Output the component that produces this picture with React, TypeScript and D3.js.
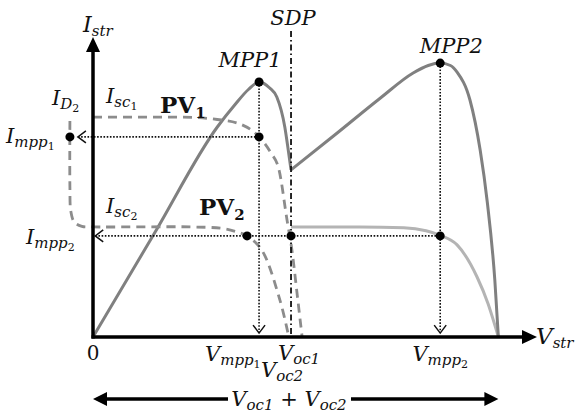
import React from 'react';
import * as d3 from 'd3';

// all values in arbitrary units: voltage on x (0..100), current / power on y (0..100)
const pv1Curve: [number, number][] = [
  [0, 73.3], [20, 73.3], [28, 72.5], [33.1, 71], [37.4, 66.7], [40, 61.5],
  [41.9, 55.7], [43.7, 39], [44.8, 29], [46, 14], [47.1, 0],
];
const pv2Curve: [number, number][] = [
  [-5.2, 72], [-5.2, 50], [-5, 42], [-4.2, 38.3], [-2.5, 36.9], [0, 36.7],
  [22, 36.7], [29, 36.2], [32.5, 35], [34.7, 33.7], [38, 29], [42.1, 12.3], [44.1, 0],
];
const stringPowerLeft: [number, number][] = [
  [0, 0], [14, 35], [28, 70], [32, 77.5], [35, 82.5], [37.4, 85], [39.8, 83],
  [41.4, 80], [43.2, 70], [44.1, 61], [44.6, 55.7],
];
const stringPowerRight: [number, number][] = [
  [44.6, 55.7], [55, 68], [64.6, 79.5], [72.1, 88], [75.5, 90.5], [78.2, 91.3],
  [80.5, 90.5], [82, 88.3], [84.9, 79], [87.2, 62.3], [88.8, 45], [90.5, 19], [91.3, 0],
];
const stringCurrent: [number, number][] = [
  [44.6, 36.7], [60, 36.7], [70, 36.4], [75, 35.4], [78.2, 33.9], [82, 30.7],
  [86.5, 20], [89, 11], [90.5, 4], [91.3, 0],
];
const markerPoints: [number, number][] = [
  [37.4, 85], [78.2, 91.3], [37.4, 66.7], [34.7, 33.7], [44.6, 33.7], [78.2, 33.7], [-5.2, 66.7],
];
// key voltages and currents
const vMpp = [37.4, 78.2];
const iMpp = [66.7, 33.7];
const vSdp = 44.6;
const vTotal = 91.3;

const serif = "'DejaVu Serif', 'Liberation Serif', serif";
const MAIN = 21, SUB = 15, SUB2 = 11;

export default function App() {
  const x = d3.scaleLinear().domain([0, 100]).range([93, 537]);
  const y = d3.scaleLinear().domain([0, 100]).range([337, 37]);

  const smooth = d3.line<[number, number]>()
    .x(d => x(d[0]))
    .y(d => y(d[1]))
    .curve(d3.curveMonotoneX);
  const loose = d3.line<[number, number]>()
    .x(d => x(d[0]))
    .y(d => y(d[1]))
    .curve(d3.curveCatmullRom.alpha(0.5));

  const x0 = x(0), y0 = y(0);
  const bottomY = 399;

  // open arrow heads
  const openLeft = (tx: number, ty: number) => `M${tx + 8},${ty - 6}L${tx},${ty}L${tx + 8},${ty + 6}`;
  const openDown = (tx: number, ty: number) => `M${tx - 6},${ty - 8}L${tx},${ty}L${tx + 6},${ty - 8}`;

  const dotted = { stroke: '#111', strokeWidth: 1.6, strokeDasharray: '1.6 1.6', fill: 'none' };

  // letter with subscript and optional second-level subscript
  const sym = (base: string, sub: string, sub2?: string, big = MAIN) => (
    <>
      <tspan fontSize={big}>{base}</tspan>
      <tspan fontSize={SUB} dy={4}>{sub}</tspan>
      {sub2 ? <tspan fontSize={SUB2} dy={3} fontStyle="normal">{sub2}</tspan> : null}
    </>
  );

  return (
    <svg width={577} height={417} style={{ position: 'absolute', left: 0, top: 0, background: '#fff' }}
      fontFamily={serif}>
      {/* string current (light) and power (dark) */}
      <path d={smooth(stringCurrent) ?? ''} fill="none" stroke="#b4b4b4" strokeWidth={3} />
      <path d={smooth(stringPowerLeft) ?? ''} fill="none" stroke="#808080" strokeWidth={3} />
      <path d={smooth(stringPowerRight) ?? ''} fill="none" stroke="#808080" strokeWidth={3} />

      {/* single module curves */}
      <path d={smooth(pv1Curve) ?? ''} fill="none" stroke="#8c8c8c" strokeWidth={2.8} strokeDasharray="9 6" />
      <path d={loose(pv2Curve) ?? ''} fill="none" stroke="#8c8c8c" strokeWidth={2.8} strokeDasharray="9 6" />

      {/* SDP line */}
      <line x1={x(vSdp)} x2={x(vSdp)} y1={31} y2={y0} stroke="#111" strokeWidth={1.8} strokeDasharray="6 3 1.5 3" />

      {/* dotted guides */}
      <line x1={x(-3.4)} x2={x(vMpp[0])} y1={y(iMpp[0])} y2={y(iMpp[0])} {...dotted} />
      <path d={openLeft(x(-3.4), y(iMpp[0]))} fill="none" stroke="#111" strokeWidth={1.5} />
      <line x1={x(0.5)} x2={x(vMpp[1])} y1={y(iMpp[1])} y2={y(iMpp[1])} {...dotted} />
      <path d={openLeft(x(0.5), y(iMpp[1]))} fill="none" stroke="#111" strokeWidth={1.5} />
      <line x1={x(vMpp[0])} x2={x(vMpp[0])} y1={y(85)} y2={y(1.3)} {...dotted} />
      <path d={openDown(x(vMpp[0]), y(1.3))} fill="none" stroke="#111" strokeWidth={1.5} />
      <line x1={x(vMpp[1])} x2={x(vMpp[1])} y1={y(91.3)} y2={y(1.3)} {...dotted} />
      <path d={openDown(x(vMpp[1]), y(1.3))} fill="none" stroke="#111" strokeWidth={1.5} />

      {/* axes */}
      <line x1={x0} x2={x0} y1={y0 + 1.5} y2={y(100) + 12} stroke="#000" strokeWidth={3.5} />
      <path d={`M${x0},${y(100)}L${x0 - 7},${y(100) + 15}L${x0 + 7},${y(100) + 15}Z`} fill="#000" />
      <line x1={x0 - 1.5} x2={x(100) - 12} y1={y0} y2={y0} stroke="#000" strokeWidth={3.5} />
      <path d={`M${x(100)},${y0}L${x(100) - 15},${y0 - 7}L${x(100) - 15},${y0 + 7}Z`} fill="#000" />

      {markerPoints.map((p, i) => (
        <circle key={i} cx={x(p[0])} cy={y(p[1])} r={4.5} fill="#000" />
      ))}

      {/* bottom span arrow */}
      <line x1={x0 + 10} x2={228} y1={bottomY} y2={bottomY} stroke="#000" strokeWidth={3.5} />
      <line x1={351} x2={x(vTotal) - 10} y1={bottomY} y2={bottomY} stroke="#000" strokeWidth={3.5} />
      <path d={`M${x0},${bottomY}L${x0 + 14},${bottomY - 7}L${x0 + 14},${bottomY + 7}Z`} fill="#000" />
      <path d={`M${x(vTotal)},${bottomY}L${x(vTotal) - 14},${bottomY - 7}L${x(vTotal) - 14},${bottomY + 7}Z`} fill="#000" />

      {/* labels */}
      <g fontStyle="italic" fill="#111">
        <text x={83} y={32}>{sym('I', 'str', undefined, 22)}</text>
        <text x={x(vSdp) + 2} y={25} fontSize={MAIN} textAnchor="middle">SDP</text>
        <text x={x(vMpp[0]) - 9} y={67} fontSize={MAIN} textAnchor="middle">MPP1</text>
        <text x={x(vMpp[1]) + 11} y={53} fontSize={MAIN} textAnchor="middle">MPP2</text>

        <text x={52} y={105}>{sym('I', 'D', '2')}</text>
        <text x={6} y={143}>{sym('I', 'mpp', '1')}</text>
        <text x={26} y={244}>{sym('I', 'mpp', '2')}</text>
        <text x={106} y={103}>{sym('I', 'sc', '1')}</text>
        <text x={106} y={213}>{sym('I', 'sc', '2')}</text>

        <text x={205} y={361}>{sym('V', 'mpp', '1')}</text>
        <text x={x(vMpp[1])} y={361} textAnchor="middle">{sym('V', 'mpp', '2')}</text>
        <text x={278} y={360}>{sym('V', 'oc1')}</text>
        <text x={261} y={377}>{sym('V', 'oc2')}</text>
        <text x={536} y={344}>{sym('V', 'str', undefined, 23)}</text>

        <text x={289} y={406} textAnchor="middle">
          {sym('V', 'oc1')}
          <tspan fontSize={MAIN} dy={-4} fontStyle="normal"> + </tspan>
          {sym('V', 'oc2')}
        </text>
      </g>
      <text x={x0} y={360} fontSize={20} textAnchor="middle" fill="#111">0</text>

      <g fontWeight="bold" fill="#111">
        <text x={160} y={113}><tspan fontSize={23}>PV</tspan><tspan fontSize={15} dy={5}>1</tspan></text>
        <text x={199} y={215}><tspan fontSize={23}>PV</tspan><tspan fontSize={15} dy={5}>2</tspan></text>
      </g>
    </svg>
  );
}
